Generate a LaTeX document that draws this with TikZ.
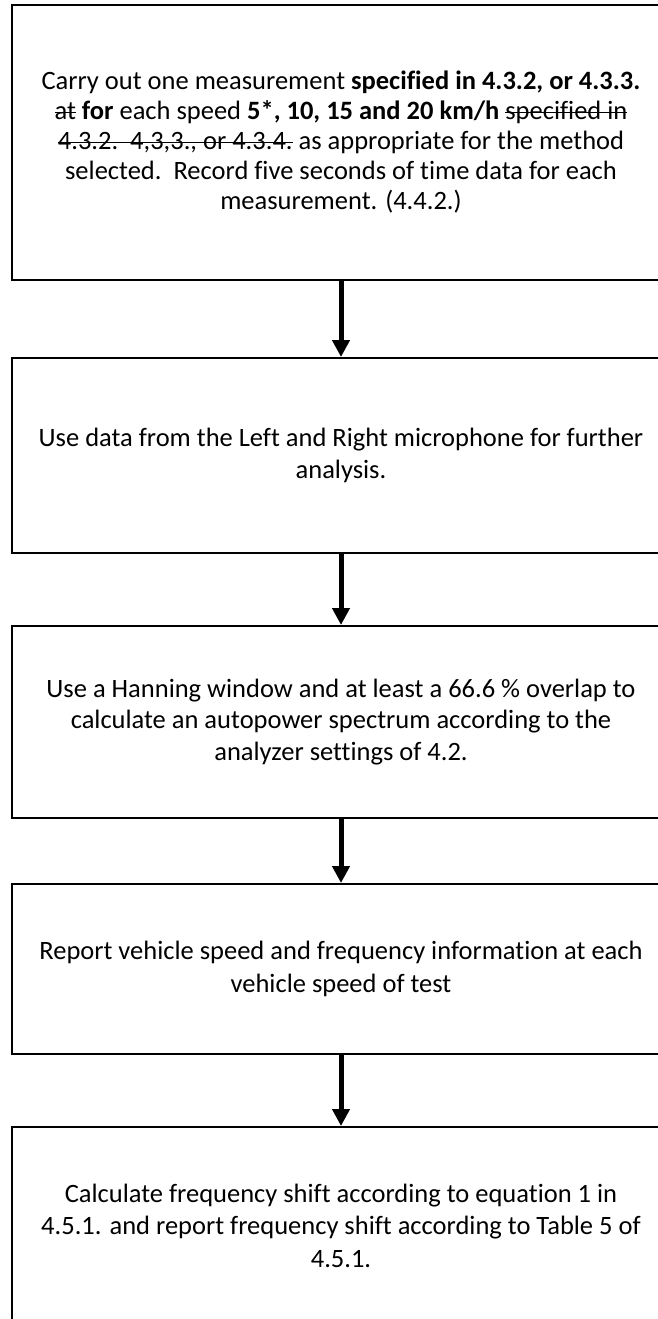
\documentclass[tikz,border=0pt]{standalone}
\usepackage{fontspec}
\setmainfont{Carlito}[Ligatures=NoCommon]
\newcommand\strk[1]{\setbox0\hbox{#1}\rlap{\rule[0.26em]{\wd0}{1.3pt}}\box0{}}
\usetikzlibrary{arrows.meta}
\tikzset{
  box/.style={draw=black, line width=2pt, rectangle, minimum width=658pt, align=center,
    inner sep=0pt},
  txt/.style={font=\fontsize{26.5}{#1}\selectfont},
  arr/.style={line width=5pt, -{Triangle[width=17pt,length=17pt]}}
}
\begin{document}
\begin{tikzpicture}[x=1pt,y=-1pt]
\useasboundingbox (0,0) rectangle (657,1319);
\node[box, txt=30, minimum height=275pt] (b1) at (341,142.5)
 {Carry out one measurement \textbf{specified in 4.3.2, or 4.3.3.}\\
  \strk{at} \textbf{for} each speed \textbf{5*, 10, 15 and 20 km/h} \strk{specified in}\\
  \strk{4.3.2.\ \ 4,3,3., or 4.3.4.} as appropriate for the method\\
  selected.\ \ Record five seconds of time data for each\\
  measurement. (4.4.2.)};
\node[box, txt=32, minimum height=195pt] (b2) at (341,455.5)
 {Use data from the Left and Right microphone for further\\analysis.};
\node[box, txt=31.5, minimum height=192pt] (b3) at (341,722)
 {Use a Hanning window and at least a 66.6 \% overlap to\\calculate an autopower spectrum according to the\\analyzer settings of 4.2.};
\node[box, txt=32.7, minimum height=170pt] (b4) at (341,969)
 {Report vehicle speed and frequency information at each\\vehicle speed of test};
\node[box, txt=32.5, minimum height=197pt] (b5) at (341,1225.5)
 {Calculate frequency shift according to equation 1 in\\4.5.1. and report frequency shift according to Table 5 of\\4.5.1.};
\draw[arr] (b1.south) -- (b2.north);
\draw[arr] (b2.south) -- (b3.north);
\draw[arr] (b3.south) -- (b4.north);
\draw[arr] (b4.south) -- (b5.north);
\end{tikzpicture}
\end{document}
